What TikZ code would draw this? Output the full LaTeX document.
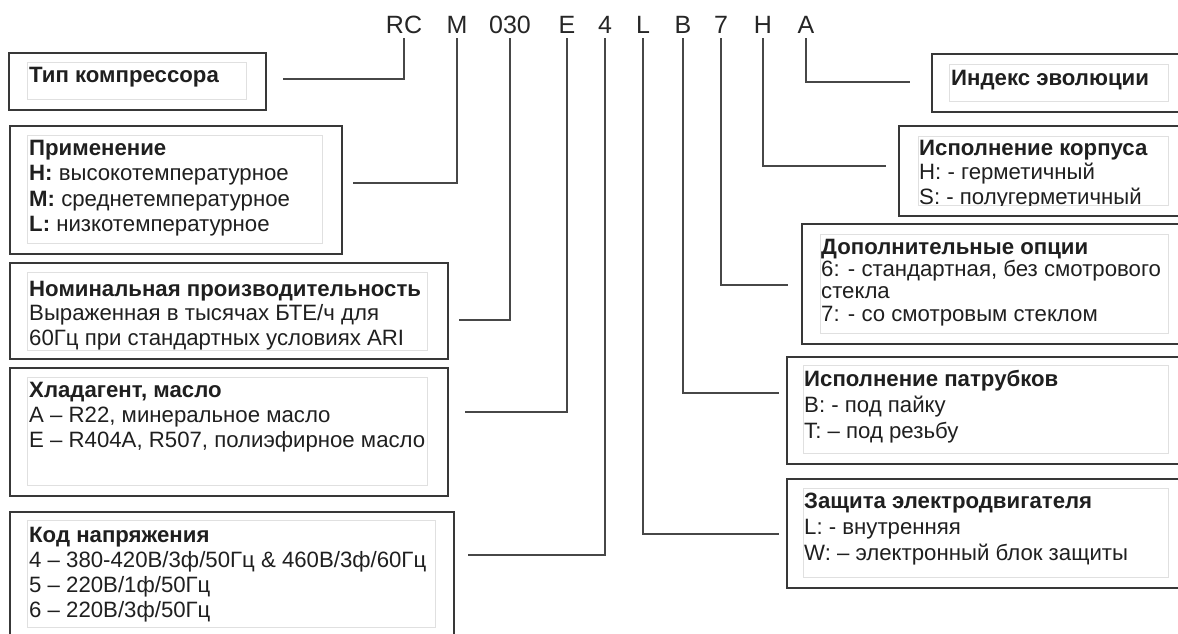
\documentclass[tikz,border=0pt]{standalone}
\usepackage{fontspec}
\setmainfont{Liberation Sans}
\usetikzlibrary{positioning}

\tikzset{
	outerbox/.style={draw=black!78, line width=2pt, inner sep=0pt, anchor=north west},
	innerbox/.style={draw=black!12, line width=1pt, inner sep=0pt, anchor=north west},
	boxtext/.style={anchor=north west, inner sep=0pt, align=left, text=black!88},
	code/.style={anchor=base, inner xsep=0pt, inner ysep=5pt, text=black!85, font=\fontsize{25}{25}\selectfont},
	conn/.style={draw=black!72, line width=1.8pt},
}

\begin{document}
\begin{tikzpicture}[x=1pt, y=-1pt]
	\useasboundingbox (0,0) rectangle (1178,633);
	\clip (0,0) rectangle (1178,633);
	\foreach \n/\x/\t in {RC/404/RC, M/457/M, 030/510/030, E/567/E, 4/605/4, L/643/L, B/683/B, 7/721/7, H/763/H, A/806/A}{
		\node[code] (c\n) at (\x,33) {\t};
	}

	% left column
	\node[outerbox, minimum width=257pt, minimum height=57pt] (typ) at (8,52) {};
	\node[innerbox, minimum width=219pt, minimum height=37pt] (typin) at (27,62) {};
	\node[boxtext, font=\fontsize{22.2}{25}\selectfont] (typtxt) at (29,67) {\textbf{Тип компрессора}};

	\node[outerbox, minimum width=332pt, minimum height=128pt] (app) at (9,125) {};
	\node[innerbox, minimum width=295pt, minimum height=108pt] (appin) at (27,135) {};
	\node[boxtext, font=\fontsize{22.2}{25.3}\selectfont] (apptxt) at (29,140) {\textbf{Применение}\\
		\textbf{H:} высокотемпературное\\
		\textbf{M:} среднетемпературное\\
		\textbf{L:} низкотемпературное};

	\node[outerbox, minimum width=438pt, minimum height=96pt] (cap) at (9,262) {};
	\node[innerbox, minimum width=400pt, minimum height=78pt] (capin) at (27,272) {};
	\node[boxtext, font=\fontsize{22.2}{24.5}\selectfont] (captxt) at (29,281) {\textbf{Номинальная производительность}\\
		Выраженная в тысячах БТЕ/ч для\\
		60Гц при стандартных условиях ARI};

	\node[outerbox, minimum width=438pt, minimum height=128pt] (ref) at (9,367) {};
	\node[innerbox, minimum width=400pt, minimum height=108pt] (refin) at (27,377) {};
	\node[boxtext, font=\fontsize{22.2}{25}\selectfont] (reftxt) at (29,382) {\textbf{Хладагент, масло}\\
		A – R22, минеральное масло\\
		E – R404A, R507, полиэфирное масло};

	\node[outerbox, minimum width=444pt, minimum height=150pt] (volt) at (9,511) {};
	\node[innerbox, minimum width=408pt, minimum height=107pt] (voltin) at (27,520) {};
	\node[boxtext, font=\fontsize{22.2}{25}\selectfont] (volttxt) at (29,527) {\textbf{Код напряжения}\\
		4 – 380-420В/3ф/50Гц \& 460В/3ф/60Гц\\
		5 – 220В/1ф/50Гц\\
		6 – 220В/3ф/50Гц};

	% right column
	\node[outerbox, minimum width=260pt, minimum height=58pt] (evo) at (931,53) {};
	\node[innerbox, minimum width=219pt, minimum height=37pt] (evoin) at (949,64) {};
	\node[boxtext, font=\fontsize{22.2}{25}\selectfont] (evotxt) at (951,70) {\textbf{Индекс эволюции}};

	\node[outerbox, minimum width=292pt, minimum height=90pt] (body) at (898,125) {};
	\node[innerbox, minimum width=250pt, minimum height=69pt] (bodyin) at (918,136) {};
	\begin{scope}
		\clip (918,136) rectangle (1168,205);
		\node[boxtext, font=\fontsize{22.2}{24.5}\selectfont] (bodytxt) at (919,140) {\textbf{Исполнение корпуса}\\
			H: - герметичный\\
			S: - полугерметичный};
	\end{scope}

	\node[outerbox, minimum width=389pt, minimum height=120pt] (opt) at (801,223) {};
	\node[innerbox, minimum width=348pt, minimum height=99pt] (optin) at (820,234) {};
	\node[boxtext, font=\fontsize{22.2}{22.2}\selectfont] (opttxt) at (821,239) {\textbf{Дополнительные опции}\\
		6: - стандартная, без смотрового\\
		стекла\\
		7: - со смотровым стеклом};

	\node[outerbox, minimum width=404pt, minimum height=107pt] (pipe) at (786,356) {};
	\node[innerbox, minimum width=365pt, minimum height=88pt] (pipein) at (803,365) {};
	\node[boxtext, font=\fontsize{22.2}{26}\selectfont] (pipetxt) at (804,370) {\textbf{Исполнение патрубков}\\
		B: - под пайку\\
		T: – под резьбу};

	\node[outerbox, minimum width=404pt, minimum height=109pt] (prot) at (786,478) {};
	\node[innerbox, minimum width=365pt, minimum height=89pt] (protin) at (803,488) {};
	\node[boxtext, font=\fontsize{22.2}{26}\selectfont] (prottxt) at (804,493) {\textbf{Защита электродвигателя}\\
		L: - внутренняя\\
		W: – электронный блок защиты};

	% connectors
	\coordinate (eRC) at (283,79);
	\coordinate (eM) at (353,183);
	\coordinate (e030) at (459,320);
	\coordinate (eE) at (465,412);
	\coordinate (e4) at (468,555);
	\coordinate (eL) at (779,534);
	\coordinate (eB) at (779,393);
	\coordinate (e7) at (788,285);
	\coordinate (eH) at (886,166);
	\coordinate (eA) at (910,82);
	\foreach \n in {RC, M, 030, E, 4, L, B, 7, H, A}{
		\draw[conn] (c\n.south) |- (e\n);
	}
\end{tikzpicture}
\end{document}
